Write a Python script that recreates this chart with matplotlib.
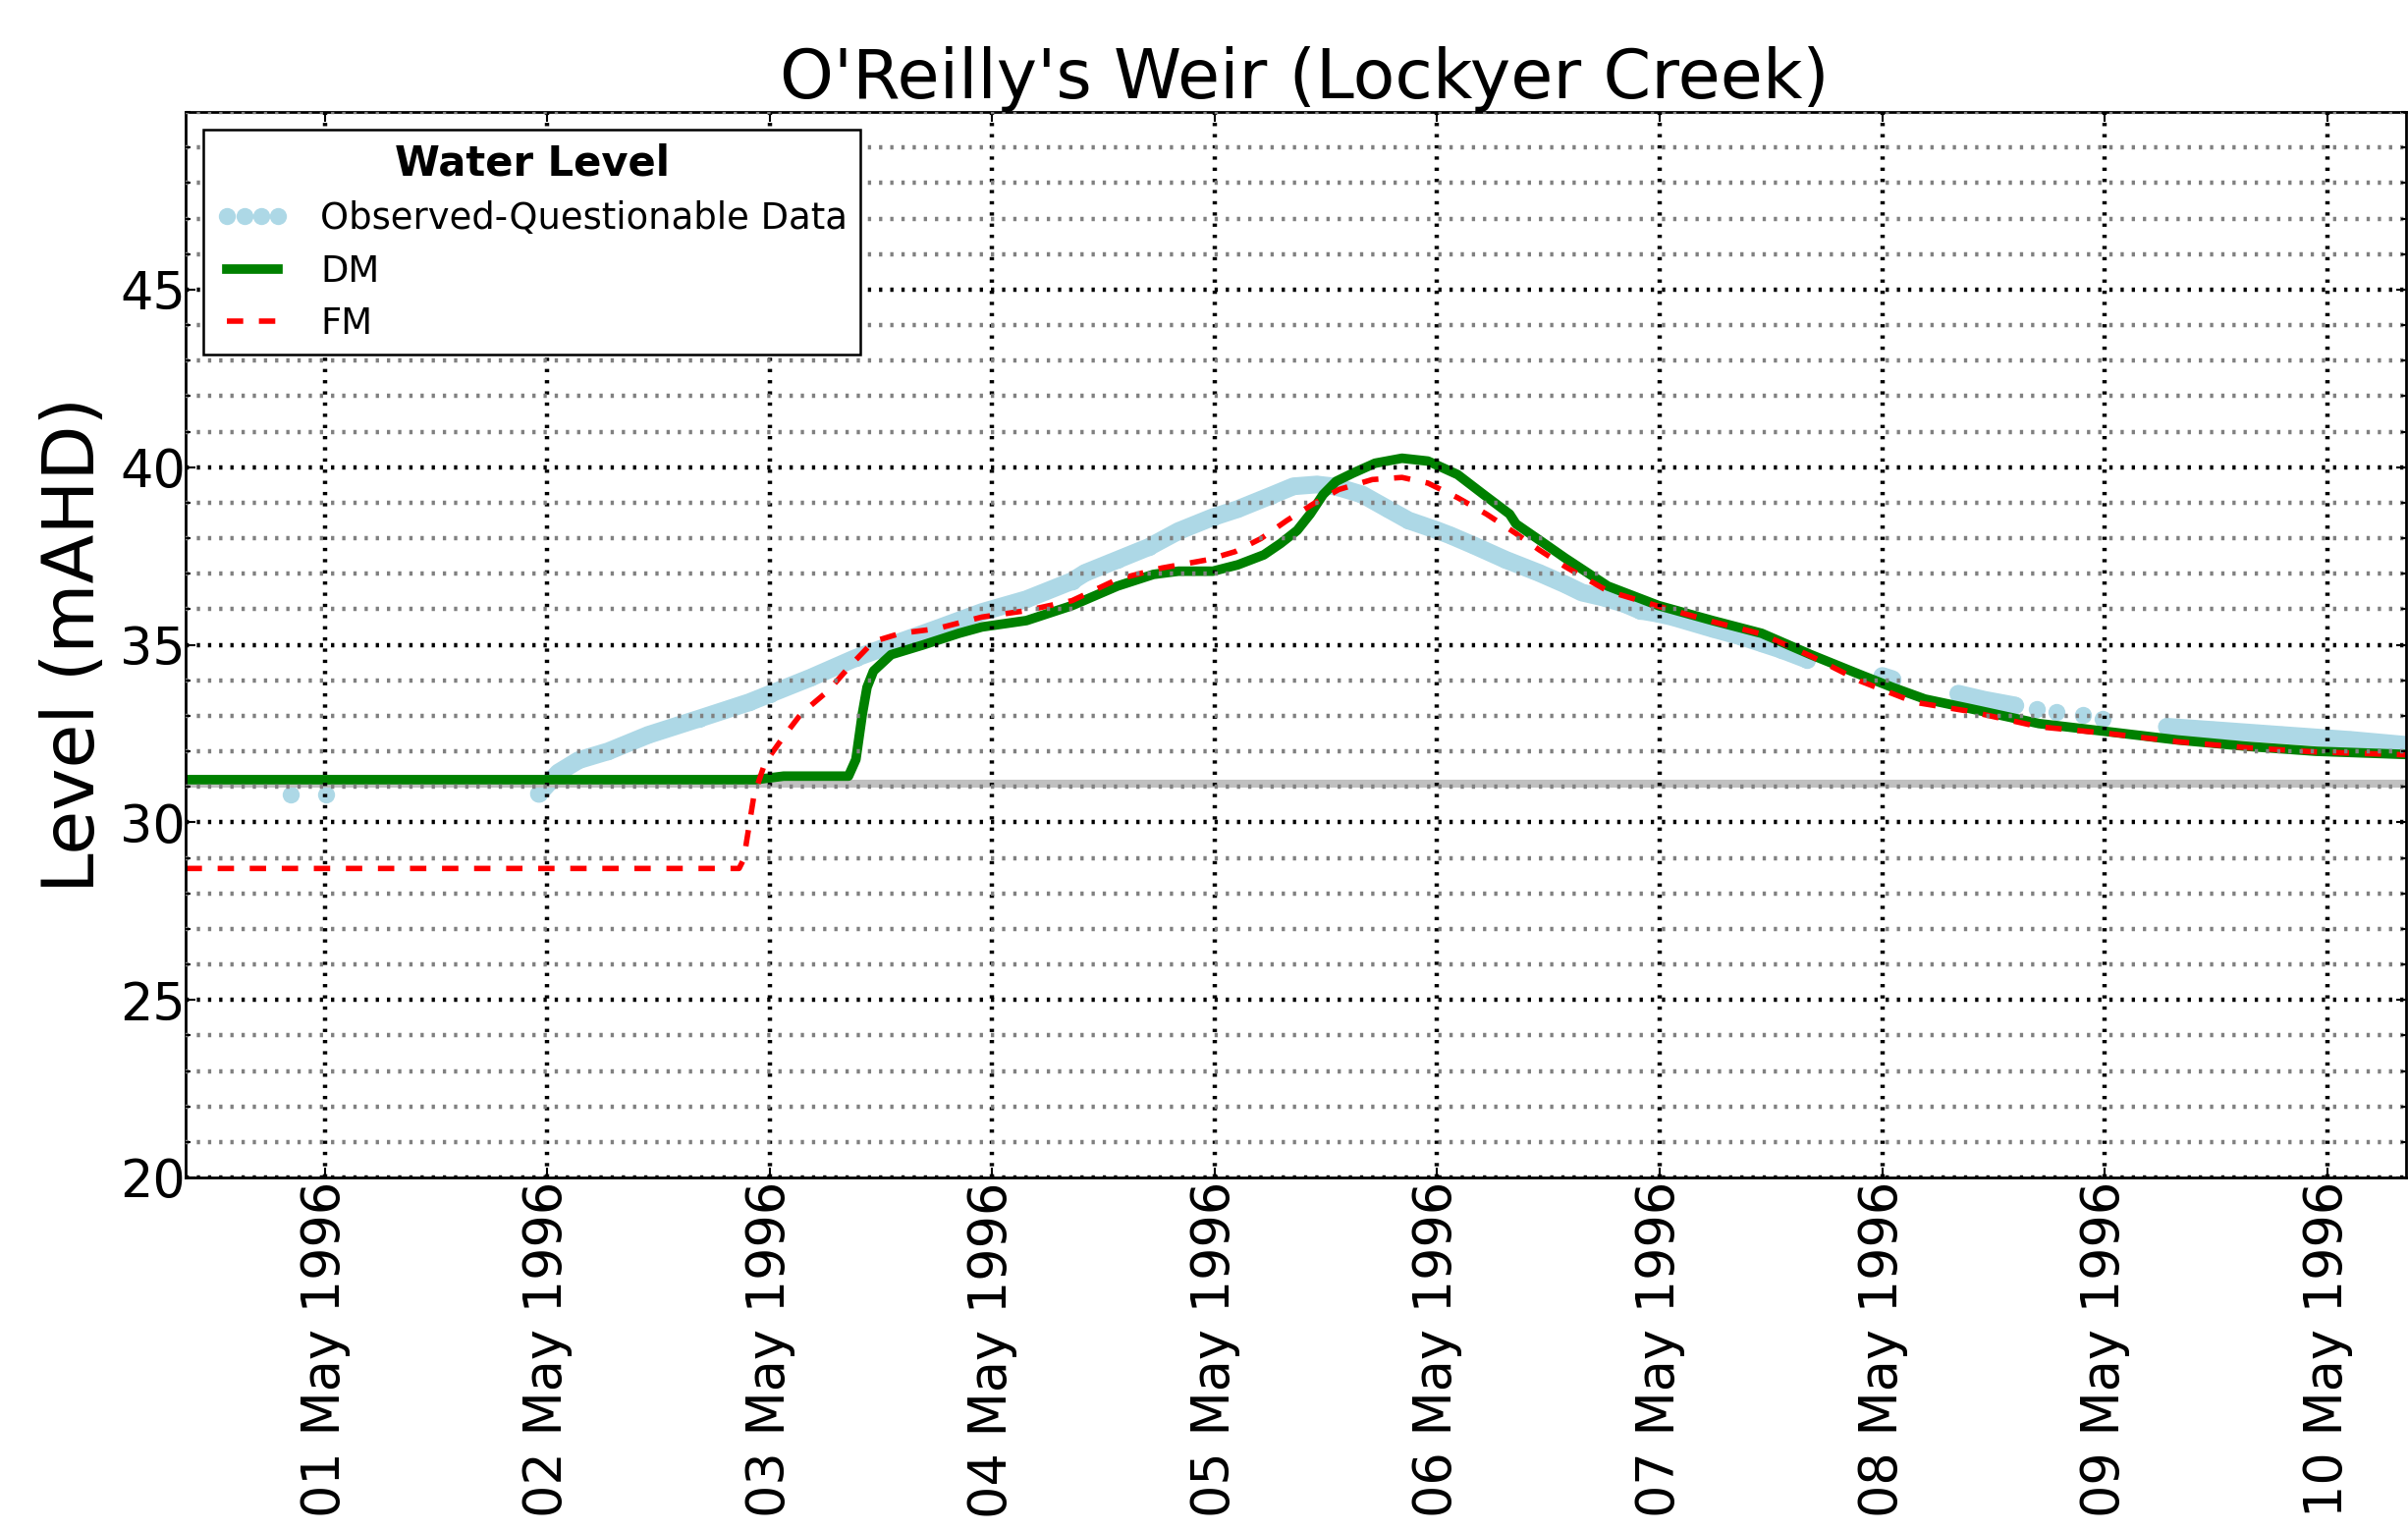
import numpy as np
import pandas as pd
import matplotlib
matplotlib.use("Agg")
import matplotlib.pyplot as plt
import matplotlib.dates as mdates
from matplotlib.ticker import MultipleLocator

nan = np.nan

# hours after 01 May 1996 00:00
obs_hours = [-3.7, -3.7, 0.1, 0.1, 23.1, 25.2, 27.4, 30.6, 34.9, 40.4,
             45.8, 48.0, 52.4, 57.3, 61.1, 66.0, 70.9, 75.7, 80.6, 82.0,
             85.5, 88.9, 92.1, 95.8, 98.5, 102.0, 104.5, 107.0, 109.1, 111.9,
             114.7, 116.9, 120.0, 121.4, 123.9, 127.4, 131.0, 133.8, 135.6, 137.9,
             140.2, 141.9, 143.9, 145.4, 149.7, 152.9, 155.0, 157.1, 159.9, 159.9,
             168.0, 169.1, 169.1, 176.2, 179.0, 182.3, 182.3, 184.7, 184.7, 186.8,
             186.8, 189.6, 189.6, 191.8, 191.8, 198.7, 203.6, 211.0, 218.5, 224.5]
obs_level = [30.77, nan, 30.77, nan, 30.8, 31.4, 31.75, 32.0, 32.46, 32.92,
             33.38, 33.61, 34.07, 34.63, 34.99, 35.45, 35.92, 36.28, 36.79, 37.02,
             37.39, 37.75, 38.2, 38.59, 38.82, 39.19, 39.46, 39.51, 39.45, 39.23,
             38.82, 38.5, 38.22, 38.08, 37.8, 37.39, 37.02, 36.7, 36.47, 36.33,
             36.15, 35.96, 35.87, 35.78, 35.45, 35.22, 35.04, 34.86, 34.58, nan,
             34.12, 34.03, nan, 33.62, 33.45, 33.29, nan, 33.2, nan, 33.1,
             nan, 33.01, nan, 32.92, nan, 32.69, 32.6, 32.46, 32.32, 32.18]

dm_hours = [-15, 46.5, 49.5, 56.5, 57.3, 58.0, 58.5, 59.2, 61.1, 64.5,
            68.4, 70.9, 75.7, 80.6, 85.5, 89.4, 92.1, 95.8, 98.5, 101.3,
            103.1, 104.9, 106.3, 107.7, 109.1, 110.9, 113.3, 116.2, 119.0, 122.2,
            125.0, 127.8, 128.5, 131.0, 133.8, 138.4, 143.9, 149.7, 155.0, 160.3,
            165.6, 169.1, 172.6, 177.5, 184.9, 192.4, 199.8, 207.3, 214.8, 224.5]
dm_level = [31.2, 31.2, 31.3, 31.3, 31.77, 33.06, 33.8, 34.26, 34.72, 34.99,
            35.32, 35.5, 35.68, 36.1, 36.65, 36.98, 37.07, 37.07, 37.25, 37.53,
            37.85, 38.22, 38.68, 39.23, 39.6, 39.83, 40.11, 40.25, 40.17, 39.79,
            39.23, 38.68, 38.4, 37.95, 37.44, 36.65, 36.1, 35.68, 35.32, 34.72,
            34.16, 33.8, 33.47, 33.2, 32.78, 32.55, 32.32, 32.14, 32.0, 31.91]

fm_hours = [-15, 44.7, 45.2, 46.3, 47.5, 49.5, 51.4, 54.3, 56.8, 59.2,
            62.1, 66.0, 70.9, 75.7, 80.6, 85.5, 90.3, 95.2, 98.2, 101.0,
            103.8, 106.6, 109.4, 113.0, 116.2, 119.0, 122.2, 125.3, 128.5, 131.0,
            133.8, 138.4, 143.9, 149.7, 155.0, 160.3, 165.6, 171.5, 177.5, 184.9,
            192.4, 199.8, 207.3, 214.8, 224.5]
fm_level = [28.7, 28.7, 28.96, 30.75, 31.68, 32.41, 33.06, 33.7, 34.44, 35.09,
            35.32, 35.45, 35.78, 35.96, 36.24, 36.84, 37.16, 37.39, 37.62, 37.99,
            38.5, 38.96, 39.37, 39.65, 39.71, 39.55, 39.14, 38.68, 38.13, 37.67,
            37.2, 36.51, 36.08, 35.65, 35.3, 34.68, 33.98, 33.38, 33.12, 32.69,
            32.5, 32.27, 32.1, 31.98, 31.9]

weir_level = 31.1
y_ticks = [20, 25, 30, 35, 40, 45]

base = pd.Timestamp('1996-05-01')


def to_time(hours):
    return (base + pd.to_timedelta(hours, unit='h')).to_numpy()


obs_t = to_time(obs_hours)
dm_t = to_time(dm_hours)
fm_t = to_time(fm_hours)

plt.rcParams['lines.scale_dashes'] = False

fig = plt.figure(figsize=(24.52, 15.59), dpi=100)
ax = fig.add_axes([189 / 2452, 1 - 1199 / 1559, 2261 / 2452, 1085 / 1559])

ax.axhline(weir_level, color='silver', lw=5.8, zorder=1.8)
ax.plot(obs_t, obs_level, color='lightblue', lw=13,
        solid_capstyle='round', solid_joinstyle='round', zorder=1.5)
ax.plot(obs_t, obs_level, 'o', color='lightblue', ms=12.5, mew=0,
        label='Observed-Questionable Data', zorder=1.6)
ax.plot(dm_t, dm_level, color='green', lw=7, label='DM', zorder=2)
ax.plot(fm_t, fm_level, color='red', lw=4, dashes=(12, 11.5), label='FM', zorder=2.1)

ax.set_xlim(dm_t[0], dm_t[-1])
ax.set_ylim(20, 50)
ax.set_yticks(y_ticks)
ax.yaxis.set_minor_locator(MultipleLocator(1))
ax.xaxis.set_major_locator(mdates.DayLocator())
ax.xaxis.set_major_formatter(mdates.DateFormatter('%d %b %Y'))
plt.setp(ax.get_xticklabels(), rotation=90)

ax.tick_params(which='both', direction='in', top=True, right=True, labelsize=37.8, width=1.5)
ax.tick_params(which='major', length=7.5)
ax.tick_params(axis='y', which='major', pad=0)
ax.tick_params(axis='x', which='major', pad=3)
ax.tick_params(which='minor', length=3.6)
for s in ax.spines.values():
    s.set_linewidth(2)

ax.set_axisbelow(False)
ax.grid(True, which='major', color='black', linestyle=(0, (2.4, 5.8)), linewidth=3.2)
ax.yaxis.grid(True, which='minor', color='gray', linestyle=(0, (2.4, 5.8)), linewidth=3.2)

ax.set_title("O'Reilly's Weir (Lockyer Creek)", fontsize=50.3, pad=9, x=0.504)
ax.set_ylabel('Level (mAHD)', fontsize=52.6, labelpad=8)

leg = ax.legend(loc='upper left', title='Water Level', fontsize=26.6,
                title_fontproperties={'weight': 'bold', 'size': 30},
                numpoints=4, handlelength=2.0, handletextpad=0.87, borderpad=0.35,
                borderaxespad=0.5, labelspacing=0.45, fancybox=False,
                framealpha=1, edgecolor='black')
leg.get_frame().set_linewidth(1.8)

fig.savefig('out.png', dpi=100)
